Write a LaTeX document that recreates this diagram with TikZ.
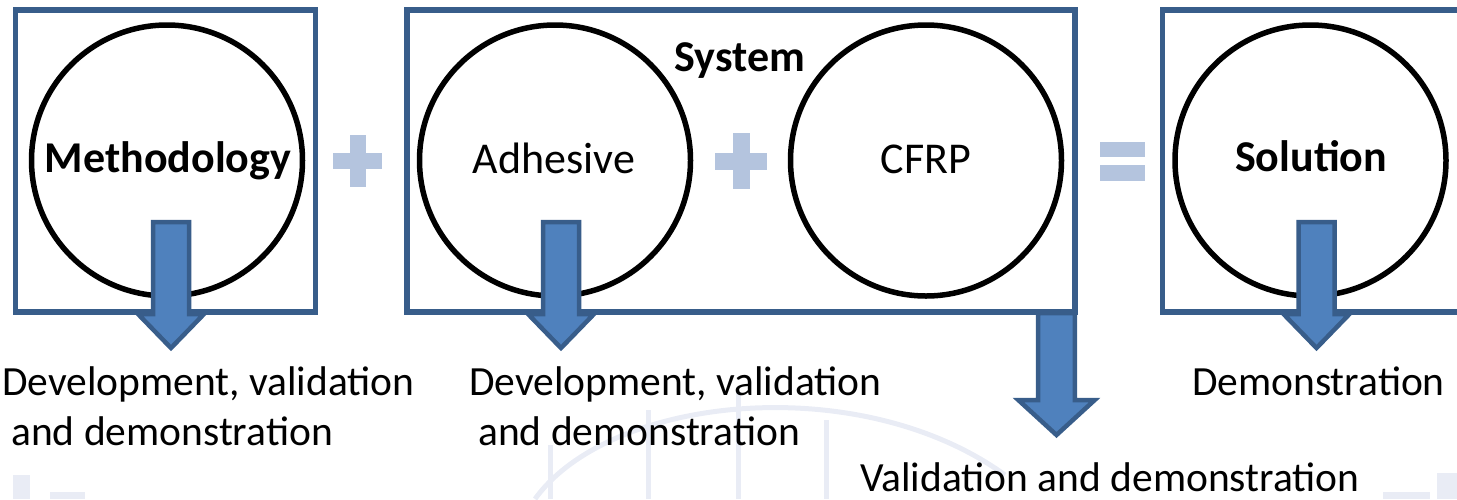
\documentclass[tikz,border=0pt]{standalone}
\usepackage{fontspec}
\setmainfont{Carlito}
\definecolor{frameblue}{HTML}{385D8A}
\definecolor{arrowfill}{HTML}{4F81BD}
\definecolor{opblue}{RGB}{180,196,222}
\definecolor{faint}{RGB}{233,236,245}
\tikzset{
  framebox/.style={draw=frameblue, line width=5.5pt, rectangle, inner sep=0pt},
  ring/.style={draw=black, line width=5.5pt, circle, fill=white, inner sep=0pt, minimum size=271pt},
  title/.style={inner sep=0pt, anchor=base, font=\fontsize{44}{50}\selectfont\bfseries},
  plain/.style={inner sep=0pt, anchor=base, font=\fontsize{44}{50}\selectfont},
  caption/.style={inner sep=0pt, anchor=base west, font=\fontsize{41.5}{48}\selectfont},
  blockarrow/.style={draw=frameblue, fill=arrowfill, line width=4.5pt, line join=miter},
  opsign/.style={fill=opblue, draw=none},
  watermark/.style={draw=faint, line width=5pt},
}
% down-pointing block arrow: centre x, top y, head start y, tip y, shaft half width, head half width
\newcommand\downblock[6]{%
  \draw[blockarrow] (#1-#5,#2) -- (#1+#5,#2) -- (#1+#5,#3) -- (#1+#6,#3) -- (#1,#4)
    -- (#1-#6,#3) -- (#1-#5,#3) -- cycle;}
\begin{document}
\begin{tikzpicture}[x=1pt, y=-1pt]
\useasboundingbox (0,0) rectangle (1457,499);
\begin{scope}
\clip (0,0) rectangle (1457,499);

% faint bridge drawing in the background
\begin{scope}[watermark]
  \draw (535,499) .. controls (610,395) and (860,370) .. (1005,475);
  \draw (550,499) -- (550,445);
  \draw (648,499) -- (648,410);
  \draw (738,499) -- (738,392);
  \draw (826,499) -- (826,420);
  \fill[faint] (13,475) rectangle (30,499);
  \fill[faint] (50,492) rectangle (85,499);
  \fill[faint] (1437,473) rectangle (1457,499);
  \fill[faint] (1383,492) rectangle (1430,499);
\end{scope}

% frames
\node[framebox, minimum width=300pt, minimum height=302pt] (methbox) at (165.5,161) {};
\node[framebox, minimum width=668pt, minimum height=302pt] (sysbox) at (741,161) {};
\draw[frameblue, line width=5.5pt] (1480,10) -- (1162.5,10) -- (1162.5,312) -- (1480,312);
\coordinate (solbox) at (1162.5,161);

% circles
\node[ring] (meth) at (167,160.5) {};
\node[ring] (adh) at (555,160.5) {};
\node[ring] (cfrp) at (926,160.5) {};
\node[ring] (sol) at (1310.5,160.5) {};

% labels inside
\node[title] (methlbl) at (168,172) {Methodology};
\node[plain] (adhlbl) at (554,173) {Adhesive};
\node[plain] (cfrplbl) at (926,173) {CFRP};
\node[title] (sollbl) at (1311,171) {Solution};
\node[title] (syslbl) at (740,71) {System};

% operators
\fill[opsign] (333,153) rectangle (382,169);
\fill[opsign] (350,135) rectangle (366,187);
\fill[opsign] (714.5,153) rectangle (767,170);
\fill[opsign] (732.5,133) rectangle (749.5,189);
\fill[opsign] (1100,141.7) rectangle (1145,156.7);
\fill[opsign] (1100,165) rectangle (1145,180.7);

% block arrows
\downblock{171}{222}{314}{348}{18}{33}
\downblock{561}{222}{314}{348}{18}{33}
\downblock{1316.5}{222}{314}{348}{18}{33}
\downblock{1056.5}{313}{400}{435}{18.3}{38.2}

% captions
\node[caption] (c1a) at (2,395) {Development, validation};
\node[caption] (c1b) at (11,445) {and demonstration};
\node[caption] (c2a) at (469,395) {Development, validation};
\node[caption] (c2b) at (478,445) {and demonstration};
\node[caption] (c3) at (1192,395) {Demonstration};
\node[caption] (c4) at (860,491) {Validation and demonstration};
\end{scope}
\end{tikzpicture}
\end{document}
